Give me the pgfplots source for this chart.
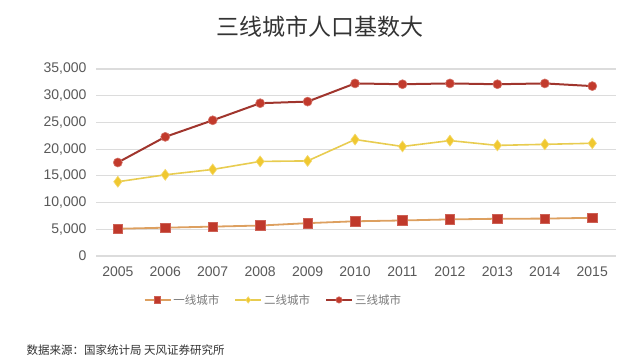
\documentclass[border=0pt]{standalone}
\usepackage{fontspec}
\setmainfont{Liberation Sans}
\newfontfamily\cjk{Noto Sans CJK SC}
\usepackage{pgfplots}
\pgfplotsset{compat=1.18}
\usepackage{pgfplotstable}
\definecolor{gridc}{HTML}{DCDCDC}
\definecolor{textc}{HTML}{595959}
\definecolor{sOneLine}{HTML}{DDA060}
\definecolor{sOneMark}{HTML}{C0392B}
\definecolor{sTwoLine}{HTML}{E8CC50}
\definecolor{sTwoMark}{HTML}{F0C830}
\definecolor{sThreeLine}{HTML}{A0352D}
\definecolor{sThreeMark}{HTML}{C23A2C}
\pgfplotstableread{
year t1 t2 t3
2005 5100 13900 17500
2006 5300 15200 22300
2007 5500 16200 25400
2008 5700 17700 28600
2009 6150 17800 28900
2010 6500 21800 32300
2011 6650 20500 32150
2012 6850 21600 32300
2013 6970 20700 32150
2014 7000 20900 32300
2015 7150 21100 31800
}\datatable
\begin{document}
\begin{tikzpicture}[x=1pt,y=1pt]
\path (0,0) rectangle (640,362);
\node[font=\cjk\fontsize{23}{26}\selectfont, text=black!80] at (320,335) {三线城市人口基数大};
\node[font=\cjk\fontsize{11.5}{13}\selectfont, text=black!80, anchor=west] at (23,12) {数据来源：国家统计局 天风证券研究所};
\begin{axis}[
  at={(96pt,106pt)}, anchor=south west,
  scale only axis, width=520pt, height=187pt,
  xmin=2004.54, xmax=2015.5,
  ymin=0, ymax=35000,
  xtick={2005,...,2015},
  ytick={0,5000,...,35000},
  xticklabel style={/pgf/number format/1000 sep={}},
  yticklabel style={/pgf/number format/1000 sep={,}},
  /pgf/number format/assume math mode=true,
  ticklabel style={font=\fontsize{14}{16}\selectfont, text=textc},
  axis line style={draw=none},
  major tick length=0pt,
  ymajorgrids, grid style={gridc, line width=1.2pt},
  xtick pos=bottom,
  xticklabel shift=7pt,
  yticklabel shift=6pt,
  scaled y ticks=false,
  clip=false,
  legend columns=3,
  legend style={at={(0.341,-0.235)}, anchor=center, draw=none, fill=none,
    font=\cjk\fontsize{11.5}{14}\selectfont, text=textc!80,
    /tikz/every odd column/.append style={column sep=0pt},
    /tikz/every even column/.append style={column sep=13pt}},
  legend image code/.code={\draw[mark repeat=2,mark phase=2,#1,mark size=3.2pt] plot coordinates {(0pt,0pt) (13pt,0pt) (26pt,0pt)};},
]
\addplot[sOneLine, line width=1.8pt, mark=square*, mark size=4.8pt,
  mark options={fill=sOneMark, draw=sOneMark!80!white, line width=0.6pt}] table[x=year,y=t1] {\datatable};
\addlegendentry{一线城市}
\addplot[sTwoLine, line width=1.6pt, mark=diamond*, mark size=5.5pt,
  mark options={fill=sTwoMark, draw=sTwoMark!70!white, line width=0.6pt}] table[x=year,y=t2] {\datatable};
\addlegendentry{二线城市}
\addplot[sThreeLine, line width=2pt, mark=*, mark size=4.5pt,
  mark options={fill=sThreeMark, draw=sThreeMark!70!white, line width=0.6pt}] table[x=year,y=t3] {\datatable};
\addlegendentry{三线城市}
\end{axis}
\end{tikzpicture}
\end{document}
